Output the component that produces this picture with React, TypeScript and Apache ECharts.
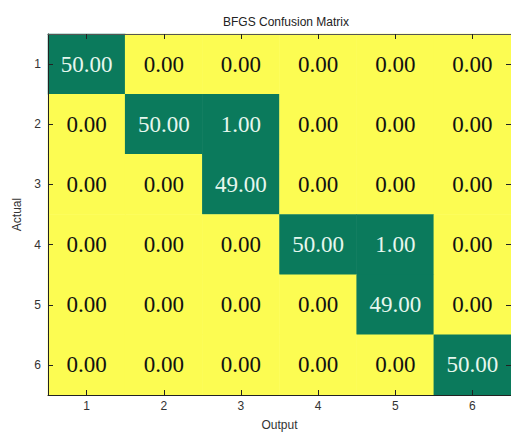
import React, { useEffect, useRef } from "react";
import * as echarts from "echarts";

const outputLabels = ["1", "2", "3", "4", "5", "6"];
const actualLabels = ["1", "2", "3", "4", "5", "6"];
const row1 = [50, 0, 0, 0, 0, 0];
const row2 = [0, 50, 1, 0, 0, 0];
const row3 = [0, 0, 49, 0, 0, 0];
const row4 = [0, 0, 0, 50, 1, 0];
const row5 = [0, 0, 0, 0, 49, 0];
const row6 = [0, 0, 0, 0, 0, 50];
const matrix = [row1, row2, row3, row4, row5, row6];

const GREEN = "#0b7a5c";
const YELLOW = "#fcfc52";

export default function App() {
  const ref = useRef<HTMLDivElement>(null);
  useEffect(() => {
    if (!ref.current) return;
    const chart = echarts.init(ref.current, null, { renderer: "svg" });
    const data: any[] = [];
    matrix.forEach((row, yi) => {
      row.forEach((v, xi) => {
        data.push({
          value: [xi, yi, v],
          label: { color: v > 0 ? "#e6f7ee" : "#111111" },
        });
      });
    });
    const axisLabelStyle = {
      fontFamily: "Liberation Sans, Arial, sans-serif",
      fontSize: 12,
      color: "#333",
    };
    const tick = { show: true, alignWithLabel: true, inside: true, length: 5, lineStyle: { color: "#222", width: 1 } };
    chart.setOption({
      animation: false,
      backgroundColor: "#ffffff",
      title: {
        text: "BFGS Confusion Matrix",
        left: 281,
        textAlign: "center",
        top: 11,
        textStyle: {
          fontFamily: "Liberation Sans, Arial, sans-serif",
          fontSize: 12,
          fontWeight: "normal",
          color: "#222",
        },
      },
      grid: { left: 48, top: 34, width: 466, height: 368 },
      xAxis: [
        {
          type: "category",
          data: outputLabels,
          position: "bottom",
          z: 10,
          name: "Output",
          nameLocation: "middle",
          nameGap: 24,
          nameTextStyle: { ...axisLabelStyle },
          axisLine: { show: true, lineStyle: { color: "#222", width: 1 } },
          axisTick: tick,
          axisLabel: { ...axisLabelStyle, margin: 5 },
          splitLine: { show: false },
        },
        {
          type: "category",
          data: outputLabels,
          position: "top",
          z: 10,
          axisLine: { show: true, lineStyle: { color: "#555", width: 1 } },
          axisTick: tick,
          axisLabel: { show: false },
          splitLine: { show: false },
        },
      ],
      yAxis: [
        {
          type: "category",
          data: actualLabels,
          inverse: true,
          position: "left",
          z: 10,
          name: "Actual",
          nameLocation: "middle",
          nameGap: 25,
          nameRotate: 90,
          nameTextStyle: { ...axisLabelStyle },
          axisLine: { show: true, lineStyle: { color: "#222", width: 1 } },
          axisTick: tick,
          axisLabel: { ...axisLabelStyle, margin: 7 },
          splitLine: { show: false },
        },
        {
          type: "category",
          data: actualLabels,
          inverse: true,
          position: "right",
          z: 10,
          axisLine: { show: true, lineStyle: { color: "#555", width: 1 } },
          axisTick: tick,
          axisLabel: { show: false },
          splitLine: { show: false },
        },
      ],
      visualMap: {
        type: "piecewise",
        show: false,
        dimension: 2,
        pieces: [
          { min: 0.5, color: GREEN },
          { max: 0.5, color: YELLOW },
        ],
      },
      series: [
        {
          type: "heatmap",
          xAxisIndex: 0,
          yAxisIndex: 0,
          data,
          z: 1,
          label: {
            show: true,
            fontFamily: "Liberation Serif, Times New Roman, serif",
            fontSize: 23,
            formatter: (p: any) => Number(p.value[2]).toFixed(2),
          },
          itemStyle: { borderWidth: 0 },
          emphasis: { disabled: true },
        },
      ],
    });
    return () => chart.dispose();
  }, []);
  return (
    <div
      ref={ref}
      style={{ position: "absolute", left: 0, top: 0, width: 511, height: 436 }}
    />
  );
}
